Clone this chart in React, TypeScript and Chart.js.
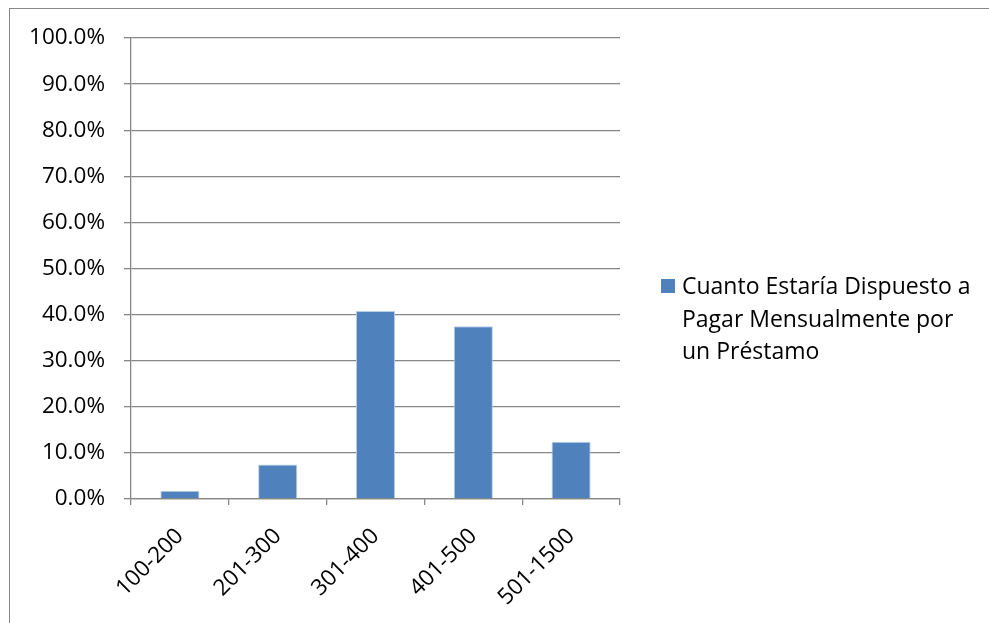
import React, { useEffect, useRef } from "react";
import { Chart, registerables } from "chart.js";

Chart.register(...registerables);

const categories = ["100-200", "201-300", "301-400", "401-500", "501-1500"];
const seriesValues = [1.8, 7.5, 40.8, 37.5, 12.4];
const seriesLabel = "Cuanto Estaría Dispuesto a Pagar Mensualmente por un Préstamo";
const legendLines = ["Cuanto Estaría Dispuesto a", "Pagar Mensualmente por", "un Préstamo"];
const yMax = 100;
const yStep = 10;

const FONT = "'Open Sans', sans-serif";
const BAR = "#4F81BD";
const GRID = "#868686";

const legendPlugin = {
  id: "wrapLegend",
  afterDraw(chart: any) {
    const ctx = chart.ctx;
    const ds = chart.data.datasets[0];
    ctx.save();
    ctx.fillStyle = ds.backgroundColor;
    ctx.fillRect(661, 279, 14, 14);
    ctx.fillStyle = "#000000";
    ctx.font = `23px ${FONT}`;
    ctx.textBaseline = "alphabetic";
    ctx.textAlign = "left";
    legendLines.forEach((line, i) => {
      ctx.fillText(line, 682, 294 + i * 32.5);
    });
    ctx.restore();
  },
};

export default function App() {
  const ref = useRef<HTMLCanvasElement>(null);
  useEffect(() => {
    const chart = new Chart(ref.current!, {
      type: "bar",
      data: {
        labels: categories,
        datasets: [
          {
            label: seriesLabel,
            data: seriesValues,
            backgroundColor: BAR,
            borderColor: "#B9CDE5",
            borderWidth: 1,
            barPercentage: 0.4,
            categoryPercentage: 1,
          },
        ],
      },
      options: {
        animation: false,
        responsive: false,
        maintainAspectRatio: false,
        layout: { padding: { top: 38, left: 0, right: 369, bottom: 0 } },
        plugins: { legend: { display: false }, tooltip: { enabled: false } },
        scales: {
          x: {
            afterFit(scale: any) {
              scale.height = 124;
            },
            grid: {
              offset: true,
              drawOnChartArea: false,
              drawTicks: true,
              tickLength: 6,
              color: GRID,
              lineWidth: 1.3,
            },
            border: { color: GRID, width: 1.3 },
            ticks: {
              color: "#000000",
              font: { family: FONT, size: 22.5 },
              maxRotation: 45,
              minRotation: 45,
              padding: 18,
              autoSkip: false,
            },
          },
          y: {
            min: 0,
            max: yMax,
            afterFit(scale: any) {
              scale.width = 131;
            },
            grid: { color: GRID, tickLength: 7, drawTicks: true, lineWidth: 1.3 },
            border: { color: GRID, width: 1.3 },
            ticks: {
              stepSize: yStep,
              color: "#000000",
              padding: 19,
              font: { family: FONT, size: 22.5 },
              callback: (v: any) => `${Number(v).toFixed(1)}%`,
            },
          },
        },
      },
      plugins: [legendPlugin],
    });
    return () => chart.destroy();
  }, []);
  return (
    <div style={{ position: "absolute", left: 0, top: 0, width: 989, height: 623, background: "#fff", overflow: "hidden" }}>
      <div
        style={{
          position: "absolute",
          left: 9,
          top: 8,
          width: 1000,
          height: 700,
          borderTop: "1px solid #878787",
          borderLeft: "1px solid #878787",
        }}
      />
      <canvas ref={ref} width={989} height={623} style={{ position: "absolute", left: 0, top: 0 }} />
    </div>
  );
}
